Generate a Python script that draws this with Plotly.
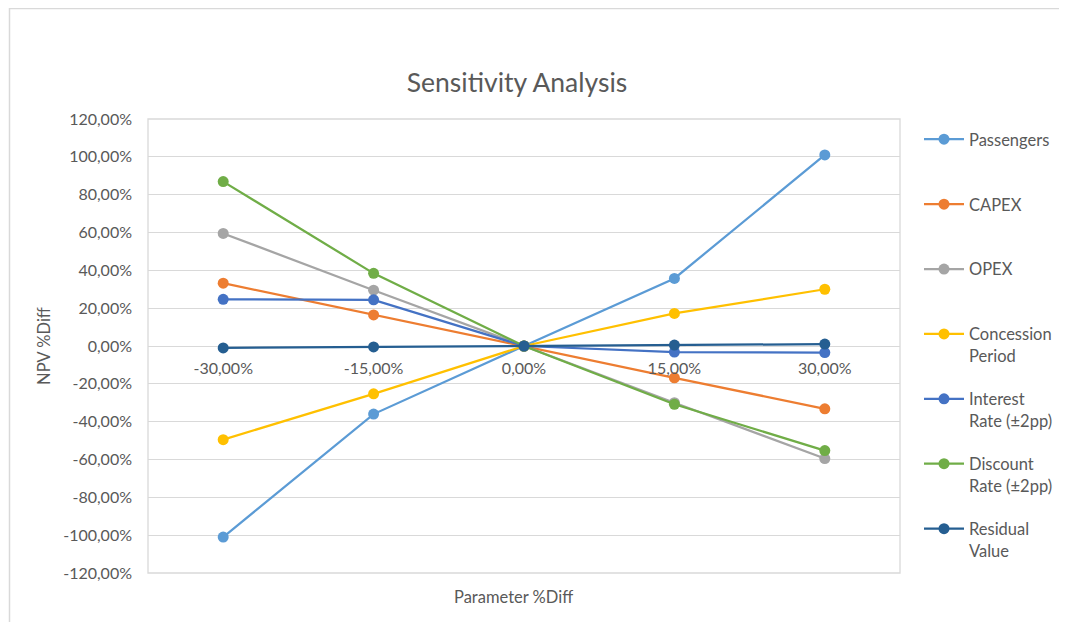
import plotly.graph_objects as go

categories = ["-30,00%", "-15,00%", "0,00%", "15,00%", "30,00%"]

passengers = [-101.0, -36.0, 0.0, 35.7, 101.0]
capex = [33.2, 16.4, 0.0, -16.8, -33.2]
opex = [59.5, 29.5, 0.0, -30.0, -59.5]
concession = [-49.5, -25.3, 0.0, 17.2, 30.0]
interest = [24.7, 24.4, 0.0, -3.2, -3.5]
discount = [86.9, 38.4, 0.0, -30.8, -55.3]
residual = [-1.0, -0.5, 0.0, 0.5, 1.0]

series_names = ["Passengers", "CAPEX", "OPEX", "Concession<br>Period",
                "Interest<br>Rate (±2pp)", "Discount<br>Rate (±2pp)", "Residual<br>Value"]
series_values = [passengers, capex, opex, concession, interest, discount, residual]
series_colors = ["#5B9BD5", "#ED7D31", "#A5A5A5", "#FFC000", "#4472C4", "#70AD47", "#255E91"]

y_tick_vals = [120, 100, 80, 60, 40, 20, 0, -20, -40, -60, -80, -100, -120]
y_tick_text = ["120,00%", "100,00%", "80,00%", "60,00%", "40,00%", "20,00%", "0,00%",
               "-20,00%", "-40,00%", "-60,00%", "-80,00%", "-100,00%", "-120,00%"]

FONT = "Lato, 'Open Sans', sans-serif"
TXT = "#595959"

fig = go.Figure()
for i, (name, vals, col) in enumerate(zip(series_names, series_values, series_colors)):
    label = name if "<br>" in name else name + "<br> "
    fig.add_trace(go.Scatter(
        x=categories, y=vals, name=label, mode="lines+markers",
        line=dict(color=col, width=2.25),
        marker=dict(color=col, size=11),
        legendgroup="g%d" % i,
    ))

# page body offset (screen px) compensation
OFF = 8
W, H = 1067, 622
# desired screen positions of plot area
S_L, S_R, S_T, S_B = 148, 900, 119, 573
L = S_L - OFF
T = S_T - OFF
R = W - (S_R - OFF)
B = H - (S_B - OFF)
pw, ph = W - L - R, H - T - B

def px_x(px):  # screen px -> paper
    return (px - OFF - L) / pw

def px_y(py):
    return (H - B - (py - OFF)) / ph

fig.update_layout(
    width=W, height=H,
    margin=dict(l=L, r=R, t=T, b=B),
    paper_bgcolor="white", plot_bgcolor="white",
    font=dict(family=FONT, color=TXT, size=16),
    title=dict(text="Sensitivity Analysis", x=px_x(517), xref="paper", xanchor="center",
               y=1 - (83 - OFF) / H, yanchor="middle", font=dict(size=26.5, color=TXT, family=FONT)),
    xaxis=dict(type="category", categoryorder="array", categoryarray=categories,
               range=[-0.5, 4.5], anchor="free", position=0.5, showgrid=False,
               showline=False, zeroline=False, ticks="", ticklabelstandoff=11,
               tickfont=dict(size=16, color=TXT)),
    yaxis=dict(range=[-120, 120], tickvals=y_tick_vals, ticktext=y_tick_text,
               showgrid=True, gridcolor="#D9D9D9", gridwidth=1.3, zeroline=False,
               ticks="", ticklabelstandoff=15, tickfont=dict(size=16, color=TXT),
               title=dict(text="NPV %Diff", font=dict(size=16.5, color=TXT), standoff=8)),
    legend=dict(x=px_x(919), xanchor="left", y=px_y(122), yanchor="top",
                font=dict(size=16.5, color=TXT, family=FONT), tracegroupgap=19,
                valign="top", itemwidth=40, bgcolor="rgba(0,0,0,0)"),
    showlegend=True,
)

fig.add_annotation(text="Parameter %Diff", xref="paper", yref="paper",
                   x=px_x(513), y=px_y(597), xanchor="center", yanchor="middle",
                   showarrow=False, font=dict(size=16.5, color=TXT, family=FONT))

# plot area border
fig.add_shape(type="rect", xref="paper", yref="paper", x0=0, y0=0, x1=1, y1=1,
              line=dict(color="#D9D9D9", width=1.3), layer="below")
# outer chart frame
fig.add_shape(type="line", xref="paper", yref="paper", x0=px_x(9), y0=px_y(8.5),
              x1=px_x(1080), y1=px_y(8.5), line=dict(color="#D9D9D9", width=1.5))
fig.add_shape(type="line", xref="paper", yref="paper", x0=px_x(9.5), y0=px_y(8),
              x1=px_x(9.5), y1=px_y(640), line=dict(color="#D9D9D9", width=1.5))

fig.write_html("out.html")
